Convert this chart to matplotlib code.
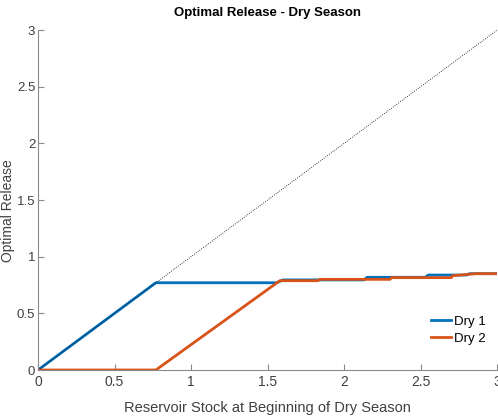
import matplotlib
matplotlib.use("Agg")
import matplotlib.pyplot as plt

# release policy curves for the two dry seasons
stock_dry1 = [0, 0.77, 1.56, 1.60, 2.13, 2.15, 2.53, 2.55, 2.80, 2.82, 3.0]
release_dry1 = [0, 0.77, 0.77, 0.795, 0.795, 0.818, 0.818, 0.838, 0.838, 0.85, 0.85]

stock_dry2 = [0, 0.77, 1.58, 1.83, 1.84, 2.30, 2.31, 2.70, 2.71, 2.86, 3.0]
release_dry2 = [0, 0, 0.788, 0.788, 0.80, 0.80, 0.815, 0.815, 0.832, 0.85, 0.85]

# 1:1 reference (release everything in storage)
ref_x = [0, 3]
ref_y = [0, 3]

ticks = [0, 0.5, 1, 1.5, 2, 2.5, 3]
tick_labels = ['0', '0.5', '1', '1.5', '2', '2.5', '3']

plt.rcParams['font.family'] = ['Liberation Sans', 'DejaVu Sans']

fig = plt.figure(figsize=(4.98, 4.17), dpi=100)
ax = fig.add_axes([0.0763, 0.1127, 0.922, 0.8153])

ax.plot(stock_dry1, release_dry1, color='#0072BD', lw=2, label='Dry 1')
ax.plot(stock_dry2, release_dry2, color='#D95319', lw=2, label='Dry 2')
ax.plot(ref_x, ref_y, color='black', lw=0.6, ls=':')

ax.set_xlim(0, 3)
ax.set_ylim(0, 3)
ax.set_xticks(ticks)
ax.set_xticklabels(tick_labels)
ax.set_yticks(ticks)
ax.set_yticklabels(tick_labels)

for side in ('top', 'right'):
    ax.spines[side].set_visible(False)
for side in ('left', 'bottom'):
    ax.spines[side].set_color('#8a8a8a')
    ax.spines[side].set_linewidth(0.8)
ax.tick_params(direction='in', length=4, colors='#8a8a8a', labelcolor='#404040', labelsize=10)
ax.tick_params(axis='y', pad=2, labelsize=9.5)

ax.set_title('Optimal Release - Dry Season', fontsize=9.5, fontweight='bold', pad=10)
ax.set_xlabel('Reservoir Stock at Beginning of Dry Season', fontsize=10.5, color='#404040')
ax.xaxis.set_label_coords(0.5, -0.09)
ax.set_ylabel('Optimal Release', fontsize=10, color='#404040')
ax.yaxis.set_label_coords(-0.05, 0.47)

ax.legend(loc='lower right', bbox_to_anchor=(1.0, 0.04), frameon=False, fontsize=9.5,
          handlelength=1.5, handletextpad=0.2, labelspacing=0.35)

fig.savefig('out.png', dpi=100)
